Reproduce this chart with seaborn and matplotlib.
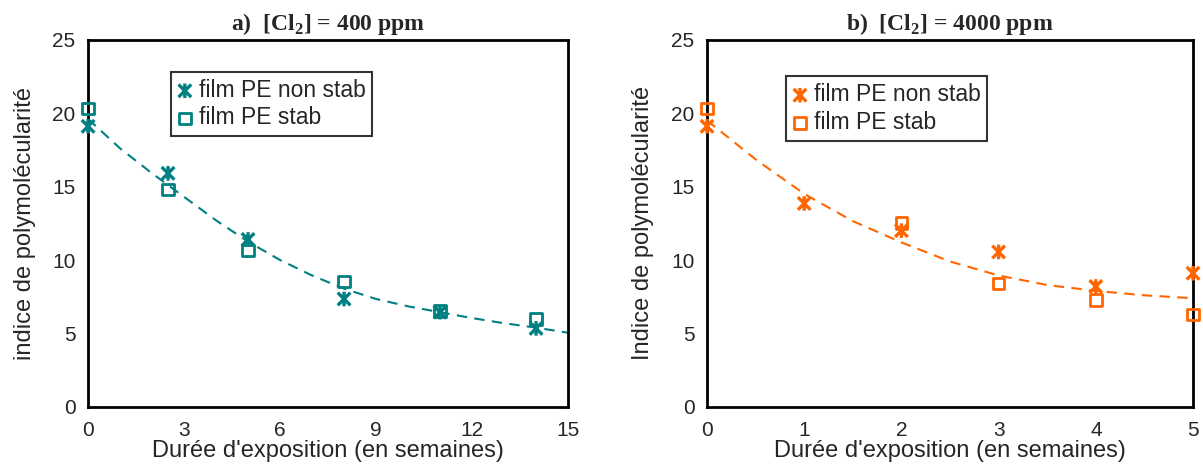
import numpy as np
import matplotlib
matplotlib.use("Agg")
import matplotlib.pyplot as plt
from matplotlib.path import Path
import seaborn as sns

# panel a) [Cl2] = 400 ppm
weeks_a = [0, 2.5, 5, 8, 11, 14]
nonstab_a = [19.1, 15.9, 11.4, 7.35, 6.45, 5.35]
stab_a = [20.3, 14.8, 10.65, 8.55, 6.55, 6.0]
# dashed trend curve
trend_x_a = [0, 1, 2, 3, 4, 5, 6, 7, 8, 9, 10, 11, 12, 13, 14, 15]
trend_y_a = [19.6, 17.6, 15.9, 14.3, 12.7, 11.25, 10.0, 8.95, 8.05, 7.35,
             6.85, 6.45, 6.05, 5.7, 5.4, 5.05]

# panel b) [Cl2] = 4000 ppm
weeks_b = [0, 1, 2, 3, 4, 5]
nonstab_b = [19.1, 13.85, 12.0, 10.55, 8.2, 9.1]
stab_b = [20.3, np.nan, 12.5, 8.4, 7.3, 6.3]
trend_x_b = [0, 0.5, 1, 1.5, 2, 2.5, 3, 3.5, 4, 4.5, 5]
trend_y_b = [19.5, 16.85, 14.5, 12.65, 11.2, 9.9, 8.95, 8.3, 7.9, 7.6, 7.4]

titles = [r"a)  [Cl$_\mathbf{2}$] = 400 ppm", r"b)  [Cl$_\mathbf{2}$] = 4000 ppm"]
ylabels = ["indice de polymolécularité", "Indice de polymolécularité"]
xlabel = "Durée d'exposition (en semaines)"
labels = ["film PE non stab", "film PE stab"]

TEAL = "#008080"
ORANGE = "#FF6600"

sns.set_style("white")
plt.rcParams["font.family"] = ["Liberation Sans", "DejaVu Sans"]
plt.rcParams["mathtext.fontset"] = "custom"
plt.rcParams["mathtext.rm"] = "Liberation Serif"
plt.rcParams["mathtext.bf"] = "Liberation Serif:bold"

# Excel-like star: an X with a vertical bar through it
star = Path(
    [(-1, -1), (1, 1), (-1, 1), (1, -1), (0, -1.15), (0, 1.15)],
    [Path.MOVETO, Path.LINETO, Path.MOVETO, Path.LINETO, Path.MOVETO, Path.LINETO],
)

fig = plt.figure(figsize=(12.03, 4.71), dpi=100)
ax_a = fig.add_axes([0.0732, 0.1359, 0.399, 0.780])
ax_b = fig.add_axes([0.5877, 0.1359, 0.404, 0.780])

panels = [
    (ax_a, weeks_a, nonstab_a, stab_a, trend_x_a, trend_y_a, TEAL, 15, 3,
     (0.173, 0.912)),
    (ax_b, weeks_b, nonstab_b, stab_b, trend_x_b, trend_y_b, ORANGE, 5, 1,
     (0.163, 0.90)),
]

for ax, x, ns, st, tx, ty, col, xmax, xstep, legpos in panels:
    sns.lineplot(x=tx, y=ty, color=col, lw=1.5, ax=ax, legend=False,
                 linestyle=(0, (5, 3.5)))

    sns.scatterplot(x=x, y=ns, marker=star, s=110, edgecolor=col,
                    facecolors="none", linewidth=2.4, ax=ax, label=labels[0],
                    clip_on=False, zorder=3)
    sns.scatterplot(x=x, y=st, marker="s", s=70, edgecolor=col,
                    facecolors="none", linewidth=2.0, ax=ax, label=labels[1],
                    clip_on=False, zorder=3)

    ax.set_xlim(0, xmax)
    ax.set_ylim(0, 25)
    ax.set_xticks(np.arange(0, xmax + 0.1, xstep))
    ax.set_yticks(np.arange(0, 26, 5))
    ax.tick_params(axis="y", direction="out", length=6, width=1.5,
                   labelsize=15, pad=3)
    ax.tick_params(axis="x", direction="inout", length=10, width=1.5,
                   labelsize=15, pad=5)
    for sp in ax.spines.values():
        sp.set_linewidth(2.0)
        sp.set_color("black")

    ax.set_xlabel(xlabel, fontsize=17, labelpad=0)

    leg = ax.legend(loc="upper left", bbox_to_anchor=legpos, fontsize=16.5,
                    frameon=True, fancybox=False, edgecolor="black",
                    handlelength=0.6, handletextpad=0.3, borderpad=0.3,
                    labelspacing=0.2, borderaxespad=0)
    leg.get_frame().set_linewidth(1.5)

ax_a.set_ylabel(ylabels[0], fontsize=17, labelpad=12)
ax_b.set_ylabel(ylabels[1], fontsize=17, labelpad=12)

for ax, t in zip([ax_a, ax_b], titles):
    ax.text(0.5, 1.006, t, transform=ax.transAxes, ha="center", va="bottom",
            fontsize=17, fontweight="bold", family="Liberation Serif")

fig.savefig("out.png", dpi=100)
